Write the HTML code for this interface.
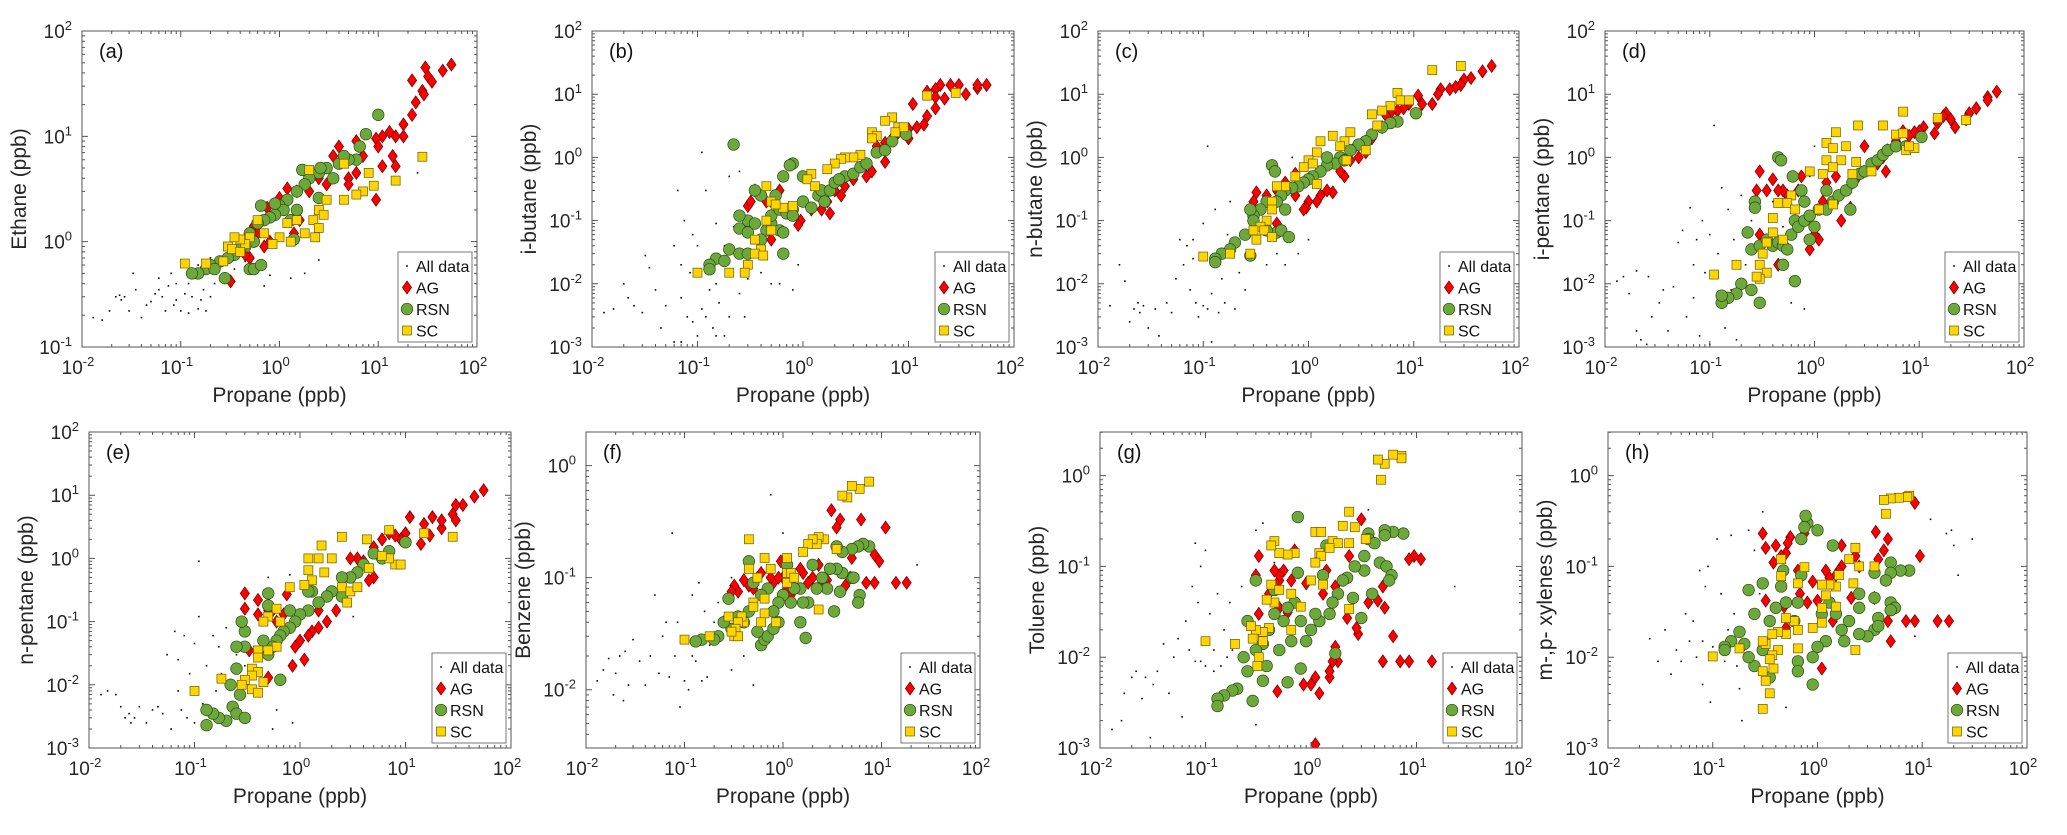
<!DOCTYPE html>
<html><head><meta charset="utf-8"><style>
html,body{margin:0;padding:0;background:#fff}
svg{display:block;font-family:"Liberation Sans",Arial,sans-serif}
</style></head><body>
<svg id="fig" width="2067" height="835" viewBox="0 0 2067 835" xmlns="http://www.w3.org/2000/svg"></svg>
<script>
// ---- data (ppb) ----
const a_all=[[0.013,0.19],[0.016,0.18],[0.019,0.22],[0.022,0.3],[0.024,0.31],[0.025,0.28],[0.027,0.3],[0.03,0.22],[0.033,0.5],[0.035,0.35],[0.04,0.19],[0.045,0.25],[0.05,0.27],[0.055,0.32],[0.06,0.45],[0.065,0.3],[0.07,0.22],[0.075,0.38],[0.08,0.5],[0.085,0.25],[0.09,0.4],[0.1,0.22],[0.11,0.32],[0.12,0.21],[0.13,0.3],[0.14,0.45],[0.15,0.23],[0.16,0.28],[0.17,0.35],[0.18,0.22],[0.2,0.3],[0.22,0.4],[0.25,0.6],[0.28,0.7],[0.3,0.8],[0.35,0.55],[0.4,1],[0.45,0.65],[0.5,0.9],[0.7,0.38],[0.8,0.48],[1.3,0.45],[1.8,0.5],[2.5,0.67],[25,4.5],[0.12,0.4],[0.09,0.28],[0.06,0.35],[0.2,0.7],[0.15,0.6]];
const a_ag=[[55,48],[45,42],[30,45],[32,37],[35,33],[28,27],[29,25],[22,34],[24,21],[22,16],[18,13],[18,10],[15,10],[13,11],[11,10],[9.5,9.5],[10,8],[14,6.5],[15,5.2],[11,5.2],[9.5,2.5],[7,6.5],[6,4.5],[5,4],[5,3.5],[6,9],[4,8],[3.5,6.5],[3,3.5],[2.5,4],[2,3],[1.2,3.2],[1,2.6],[1.5,3],[1.6,1.6],[0.75,2.1],[0.55,1.4],[0.8,1],[0.7,0.9],[0.5,0.7],[0.45,0.75],[0.32,0.42],[1.4,1.2],[0.6,1.2]];
const a_rsn=[[10,16],[7.5,10.5],[6.5,8],[6,6],[5,6],[4,5.5],[3,5],[2.5,4.5],[2,4],[2.6,5],[1.7,4.8],[1.8,3.5],[1.5,3],[1.2,2.5],[1,2.2],[1.1,2],[0.9,1.8],[0.8,1.7],[0.7,1.6],[0.6,1.5],[0.65,2.2],[1.3,1.6],[1.5,2],[2.5,2.6],[0.5,1.2],[0.55,1],[0.45,0.9],[0.4,0.85],[0.35,0.75],[0.3,0.7],[0.25,0.65],[0.2,0.6],[0.18,0.55],[0.15,0.5],[0.13,0.5],[0.28,0.45],[0.5,0.55],[0.55,0.55],[0.65,0.6],[1.4,1.05],[0.22,0.55],[3.5,4],[4.5,6.5],[0.9,2.3]];
const a_sc=[[28,6.4],[15,3.8],[8,4.5],[9,3.4],[7,3],[6,2.8],[4.5,2.5],[3,2.5],[2.5,2],[2.8,1.8],[2.2,1.6],[2.5,1.35],[2.3,1.1],[1.8,1.2],[1.5,1.6],[1.2,1.5],[1,1.1],[1.3,1.0],[2,4.8],[4.5,5.5],[0.85,0.95],[0.7,1.2],[0.6,1.6],[0.5,1.1],[0.45,0.95],[0.4,1.05],[0.35,1.1],[0.3,0.9],[0.27,0.65],[0.18,0.62],[0.11,0.62],[0.33,0.85],[0.4,0.8]];

const b_all=[[0.013,0.0035],[0.016,0.004],[0.02,0.01],[0.022,0.006],[0.025,0.0045],[0.03,0.0035],[0.032,0.028],[0.035,0.018],[0.04,0.008],[0.045,0.002],[0.05,0.0045],[0.06,0.04],[0.065,0.3],[0.07,0.006],[0.07,0.02],[0.075,0.1],[0.08,0.003],[0.085,0.015],[0.09,0.06],[0.1,0.0015],[0.1,0.04],[0.11,1.2],[0.11,0.004],[0.12,0.3],[0.12,0.003],[0.13,0.008],[0.14,0.002],[0.15,0.01],[0.15,0.0015],[0.16,0.005],[0.17,0.02],[0.18,0.04],[0.2,0.003],[0.2,0.5],[0.22,0.08],[0.25,0.007],[0.28,0.003],[0.3,0.012],[0.35,0.03],[0.4,0.015],[0.5,0.01],[0.6,0.01],[0.8,0.008],[0.9,0.02],[0.09,0.0025],[0.06,0.0012],[0.18,0.0015],[0.07,0.0012],[0.25,0.6],[0.15,0.09]];
const b_ag=[[55,14],[45,12.5],[45,14],[30,14],[35,10],[25,14],[20,14],[18,12],[15,11],[18,9],[22,8.5],[18,6],[11,7],[15,4.5],[14,3.3],[12,3],[10,2.8],[10,2],[8,2.5],[7,2],[6,1.7],[5,1.5],[6,0.85],[4.5,0.6],[4,0.5],[3,0.45],[2.5,0.35],[2.3,0.25],[2,0.3],[1.8,0.13],[1.5,0.15],[1.2,0.15],[0.95,0.1],[0.9,0.085],[0.5,0.2],[0.45,0.2],[0.35,0.3],[0.3,0.17],[0.32,0.2],[0.3,0.09],[0.5,0.05],[0.6,0.3],[1.7,0.2]];
const b_rsn=[[0.22,1.6],[0.8,0.8],[0.75,0.75],[0.65,0.5],[0.4,0.25],[0.35,0.3],[0.3,0.1],[0.25,0.12],[0.25,0.075],[0.3,0.065],[0.35,0.09],[0.45,0.07],[0.5,0.09],[0.6,0.07],[0.65,0.065],[0.65,0.03],[0.2,0.035],[0.15,0.025],[0.13,0.02],[0.13,0.017],[0.18,0.023],[0.25,0.03],[0.3,0.03],[0.4,0.05],[0.5,0.12],[0.6,0.15],[0.7,0.13],[0.8,0.15],[1,0.2],[1.2,0.16],[1.4,0.25],[1.5,0.3],[1.8,0.3],[2,0.4],[2.5,0.5],[3,0.55],[3.5,0.7],[4,0.8],[5,1.2],[6,1.3],[7,1.8],[9.5,2.3],[1,0.5],[0.8,0.12],[1.6,0.2],[2.2,0.45],[0.55,0.25]];
const b_sc=[[28,10.5],[15,9.5],[7,4.3],[6,3.8],[8,3],[9,3],[7.5,2.5],[4.5,2.5],[5,2.2],[4.5,2],[3.5,1.1],[3,1],[2.5,1],[2.3,0.95],[2,0.8],[1.7,0.65],[1.2,0.55],[1.1,0.45],[1.3,0.35],[0.65,0.16],[0.5,0.2],[0.45,0.35],[0.45,0.1],[0.5,0.07],[0.55,0.18],[0.35,0.05],[0.4,0.035],[0.35,0.03],[0.3,0.02],[0.28,0.015],[0.2,0.015],[0.1,0.015],[0.42,0.028],[0.8,0.17]];

const c_all=[[0.013,0.0045],[0.016,0.02],[0.018,0.011],[0.02,0.0025],[0.022,0.004],[0.024,0.005],[0.025,0.0035],[0.027,0.0045],[0.03,0.002],[0.035,0.004],[0.038,0.0015],[0.045,0.005],[0.05,0.0035],[0.055,0.012],[0.06,0.05],[0.065,0.02],[0.07,0.04],[0.075,0.008],[0.08,0.025],[0.085,0.005],[0.09,0.003],[0.1,0.0045],[0.1,0.09],[0.11,1.5],[0.11,0.004],[0.12,0.007],[0.13,0.15],[0.14,0.0035],[0.15,0.012],[0.16,0.005],[0.17,0.06],[0.18,0.2],[0.2,0.04],[0.2,0.004],[0.22,0.015],[0.25,0.008],[0.3,0.03],[0.4,0.02],[0.5,0.03],[0.6,0.02],[0.8,0.03],[0.12,0.0012],[0.08,0.05],[0.3,0.15],[0.7,1],[1,0.05]];
const c_ag=[[55,28],[45,23],[35,18],[30,17],[28,14],[25,13],[22,12],[18,12],[17,10],[15,7],[11,9.5],[12,7],[9,7],[8,6],[7,5.5],[6,5],[5.5,4.5],[5,3],[4,2],[3.5,1.2],[3,1],[2.5,0.9],[2.2,0.5],[2,0.6],[1.7,0.28],[1.5,0.3],[1.3,0.25],[1.2,0.2],[1,0.2],[0.95,0.16],[0.9,0.15],[0.75,0.55],[0.6,0.4],[0.5,0.3],[0.4,0.25],[0.32,0.28],[0.3,0.2],[0.5,0.09],[2.8,1.5],[0.75,0.25]];
const c_rsn=[[10.5,5],[7,3.7],[6,3.5],[5,3],[4,2.3],[3.5,1.8],[3,1.6],[2.5,1.3],[2,1],[1.8,0.8],[1.5,0.75],[1.3,0.6],[1.1,0.5],[1,0.45],[0.9,0.4],[0.8,0.35],[0.7,0.33],[0.6,0.3],[0.55,0.25],[0.5,0.2],[0.45,0.75],[0.48,0.6],[0.4,0.2],[0.35,0.15],[0.3,0.12],[0.28,0.15],[0.3,0.1],[0.25,0.06],[0.2,0.045],[0.18,0.035],[0.15,0.03],[0.13,0.025],[0.13,0.022],[0.28,0.028],[0.5,0.065],[0.55,0.07],[0.65,0.055],[0.4,0.07],[0.6,0.15],[1.5,1],[2.2,0.9]];
const c_sc=[[28,28],[15,24],[7,10.5],[7.5,8],[9,8],[6,6.5],[5,5.5],[4,4.8],[4.5,3.2],[3.5,1.3],[2.5,2.5],[2.2,1.8],[2,1.5],[1.7,2.2],[1.3,1.8],[1.2,1.2],[1,0.9],[1.1,0.8],[0.9,0.7],[0.75,0.5],[0.6,0.35],[0.5,0.35],[0.45,0.2],[0.45,0.15],[0.4,0.1],[0.35,0.08],[0.38,0.07],[0.32,0.05],[0.3,0.07],[0.28,0.03],[0.18,0.03],[0.1,0.027],[0.45,0.055],[1.2,0.38],[2.3,0.9]];

const d_all=[[0.013,0.011],[0.015,0.013],[0.017,0.007],[0.02,0.016],[0.02,0.0018],[0.022,0.0013],[0.025,0.0011],[0.026,0.013],[0.028,0.003],[0.033,0.005],[0.036,0.008],[0.04,0.0018],[0.045,0.009],[0.05,0.045],[0.055,0.07],[0.06,0.003],[0.065,0.16],[0.07,0.02],[0.075,0.05],[0.08,0.0015],[0.085,0.1],[0.09,0.015],[0.1,0.06],[0.1,0.0011],[0.11,3.2],[0.12,0.03],[0.13,0.33],[0.14,0.002],[0.15,0.15],[0.16,0.008],[0.17,0.05],[0.18,0.0013],[0.2,0.25],[0.22,0.02],[0.25,0.1],[0.3,0.03],[0.4,0.2],[0.5,0.08],[0.6,0.005],[0.7,0.01],[0.8,0.004],[1,1.5],[0.9,0.5],[0.12,0.015],[0.07,0.006]];
const d_ag=[[55,11],[45,9],[45,8],[35,6],[30,5],[28,4],[22,3],[20,4],[18,5],[17,4.5],[15,3.5],[14,2.4],[11,3],[10,2.6],[9,2.5],[8,2.2],[7,2.6],[6,1.8],[5,1.3],[4.5,1],[4.8,0.6],[4,0.8],[3,1.5],[2.6,0.5],[2.3,0.4],[2.2,0.16],[1.8,0.1],[1.6,0.5],[1.3,0.4],[1.2,0.2],[1.1,0.05],[1,0.06],[0.9,0.035],[0.75,0.5],[0.7,0.3],[0.55,0.25],[0.5,0.3],[0.45,0.3],[0.4,0.45],[0.35,0.3],[0.3,0.6],[0.28,0.3],[0.3,0.06],[0.45,0.02]];
const d_rsn=[[0.45,1],[0.48,0.9],[0.62,0.5],[0.75,0.3],[0.8,0.2],[0.27,0.2],[0.27,0.16],[0.23,0.065],[0.25,0.035],[0.3,0.04],[0.35,0.05],[0.4,0.04],[0.45,0.045],[0.5,0.04],[0.55,0.035],[0.6,0.06],[0.65,0.1],[0.7,0.08],[0.8,0.1],[0.9,0.12],[1,0.08],[1.1,0.15],[1.3,0.15],[1.5,0.2],[1.7,0.25],[2,0.3],[2.3,0.4],[2.7,0.55],[3,0.6],[3.5,0.8],[4,0.9],[4.5,1.1],[5,1.3],[6,1.5],[7.5,1.5],[10.5,2.1],[0.2,0.01],[0.18,0.007],[0.15,0.006],[0.13,0.005],[0.13,0.0065],[0.3,0.005],[0.65,0.011],[0.25,0.008],[0.5,0.02],[0.9,0.05],[1.3,0.3],[2.2,0.15]];
const d_sc=[[28,3.9],[15,4.2],[7,5.3],[6,2.3],[7,2.4],[7.5,1.3],[9,1.4],[8,1.5],[4.5,3.2],[2.6,3.2],[1.6,2.5],[2,1.5],[1.3,1.7],[1.5,1.4],[1.8,0.9],[1.3,0.9],[1.5,0.7],[1.2,0.55],[2.5,0.85],[3.5,0.6],[2.3,0.55],[0.9,0.6],[0.6,0.25],[0.55,0.19],[0.45,0.19],[0.65,0.15],[0.4,0.11],[0.4,0.065],[0.35,0.045],[0.32,0.03],[0.3,0.02],[0.35,0.015],[0.3,0.012],[0.28,0.013],[0.18,0.02],[0.11,0.014],[0.5,0.05],[1.1,0.15],[1.5,0.18]];

const e_all=[[0.013,0.007],[0.015,0.008],[0.018,0.007],[0.02,0.0045],[0.022,0.003],[0.024,0.0035],[0.025,0.0025],[0.027,0.003],[0.03,0.0045],[0.035,0.0025],[0.04,0.004],[0.045,0.0045],[0.05,0.0035],[0.055,0.03],[0.06,0.002],[0.065,0.07],[0.07,0.025],[0.075,0.004],[0.08,0.06],[0.085,0.003],[0.09,0.015],[0.1,0.045],[0.1,0.0025],[0.11,0.12],[0.11,0.9],[0.12,0.005],[0.13,0.02],[0.14,0.003],[0.15,0.06],[0.16,0.008],[0.17,0.04],[0.18,0.015],[0.2,0.08],[0.22,0.0045],[0.25,0.03],[0.3,0.02],[0.4,0.008],[0.5,0.5],[0.55,0.002],[0.6,0.004],[0.8,0.55],[0.85,0.0025],[3.2,0.12],[0.14,0.002],[0.07,0.008]];
const e_ag=[[55,12],[45,9.5],[35,7],[30,7],[28,5],[30,4],[22,3],[22,4],[18,4.5],[17,2.3],[15,3.5],[14,1.7],[11,4.5],[10,2.5],[9,2],[8,2.3],[7,2.5],[6,2],[5,1.5],[5,0.5],[4.5,0.45],[4,0.9],[3.5,1],[3,1],[2.2,0.15],[1.8,0.1],[1.5,0.15],[1.5,0.08],[1.3,0.07],[1.2,0.06],[1,0.05],[0.9,0.04],[0.85,0.02],[1.1,0.025],[0.75,0.27],[0.7,0.13],[0.55,0.15],[0.5,0.15],[0.4,0.22],[0.3,0.28],[0.3,0.16],[0.4,0.13],[0.5,0.013],[0.33,0.035],[0.6,0.1]];
const e_rsn=[[10,1.8],[7,1.3],[6,1],[5,1.2],[4,0.8],[3.5,0.6],[3,0.5],[2.5,0.5],[2,0.3],[1.8,0.25],[1.5,0.2],[1.3,0.3],[1.2,0.15],[1,0.13],[0.9,0.1],[0.8,0.08],[0.7,0.07],[0.65,0.06],[0.6,0.05],[0.55,0.04],[0.5,0.03],[0.45,0.05],[0.5,0.28],[0.5,0.18],[0.3,0.07],[0.3,0.04],[0.25,0.04],[0.28,0.1],[0.25,0.018],[0.22,0.01],[0.27,0.007],[0.23,0.0045],[0.25,0.0035],[0.3,0.003],[0.2,0.0027],[0.17,0.003],[0.15,0.0035],[0.13,0.0023],[0.13,0.004],[0.65,0.012],[0.8,0.15],[1.2,0.3],[2.5,0.25]];
const e_sc=[[28,2.2],[15,2.5],[7,2.8],[8,0.8],[9,0.8],[7,1],[6,1.1],[4.5,0.7],[4.3,2],[2.5,2.2],[1.6,1.6],[1.5,1],[1.2,1],[2,1],[1.7,0.6],[1.3,0.45],[1.2,0.65],[1.1,0.38],[2.5,0.35],[3,0.3],[3.5,0.35],[2.8,0.2],[0.8,0.35],[0.65,0.1],[0.6,0.16],[0.5,0.12],[0.45,0.1],[0.6,0.04],[0.5,0.035],[0.4,0.035],[0.4,0.027],[0.35,0.018],[0.4,0.016],[0.35,0.014],[0.3,0.012],[0.28,0.01],[0.35,0.0085],[0.4,0.0075],[0.18,0.0125],[0.1,0.008],[0.45,0.011]];

const f_all=[[0.013,0.012],[0.015,0.015],[0.017,0.019],[0.019,0.009],[0.02,0.014],[0.022,0.02],[0.024,0.008],[0.025,0.022],[0.027,0.011],[0.03,0.028],[0.035,0.018],[0.04,0.011],[0.045,0.02],[0.05,0.07],[0.055,0.014],[0.06,0.03],[0.065,0.04],[0.07,0.013],[0.075,0.25],[0.08,0.02],[0.085,0.04],[0.09,0.007],[0.1,0.012],[0.1,0.03],[0.11,0.01],[0.12,0.07],[0.13,0.018],[0.14,0.09],[0.15,0.012],[0.16,0.05],[0.17,0.013],[0.18,0.025],[0.2,0.04],[0.22,0.06],[0.25,0.045],[0.3,0.015],[0.4,0.02],[0.5,0.011],[0.75,0.55],[1,0.25],[23,0.13],[0.3,0.1],[0.12,0.02]];
const f_ag=[[18,0.09],[14,0.09],[11,0.28],[9.5,0.14],[8.5,0.16],[8.5,0.09],[7,0.09],[6.2,0.33],[5,0.15],[4.8,0.1],[4.3,0.085],[3.8,0.33],[3.5,0.28],[3.1,0.4],[2.8,0.095],[2.3,0.13],[2,0.1],[1.8,0.09],[1.6,0.11],[1.5,0.12],[1.3,0.1],[1.2,0.07],[1,0.1],[0.95,0.14],[0.8,0.09],[0.75,0.1],[0.6,0.11],[0.5,0.08],[0.45,0.085],[0.4,0.095],[0.35,0.075],[0.32,0.085],[0.3,0.075],[0.55,0.1],[1.1,0.08],[2.5,0.09],[0.9,0.1]];
const f_rsn=[[7.5,0.19],[6.5,0.2],[5.8,0.19],[5,0.18],[5,0.1],[5.2,0.1],[6,0.07],[5.8,0.06],[4,0.17],[3.5,0.19],[3.3,0.05],[3.8,0.075],[4,0.11],[3.5,0.12],[3,0.12],[2.5,0.1],[2.8,0.08],[2.2,0.08],[2,0.13],[1.8,0.06],[1.6,0.06],[1.5,0.08],[1.3,0.08],[1.2,0.06],[1.1,0.13],[1,0.07],[0.9,0.06],[0.8,0.05],[0.7,0.08],[0.6,0.07],[0.5,0.09],[0.45,0.14],[0.45,0.05],[0.4,0.04],[0.35,0.045],[0.3,0.035],[0.28,0.065],[0.25,0.04],[0.22,0.03],[0.2,0.028],[0.15,0.028],[0.13,0.027],[0.6,0.025],[0.65,0.028],[0.7,0.03],[1.7,0.029],[1.5,0.04],[0.9,0.04],[0.8,0.035],[0.55,0.033]];
const f_sc=[[7.5,0.72],[6,0.62],[5,0.66],[4.5,0.52],[4,0.54],[3.5,0.18],[2.6,0.22],[2.3,0.23],[2.2,0.2],[2,0.22],[1.8,0.2],[1.6,0.17],[1.1,0.15],[1.1,0.11],[1.2,0.11],[1.1,0.09],[1.3,0.1],[0.75,0.12],[0.65,0.15],[0.55,0.1],[0.45,0.22],[0.45,0.12],[0.5,0.06],[0.5,0.055],[0.65,0.065],[0.65,0.048],[0.6,0.04],[0.4,0.04],[0.38,0.045],[0.35,0.04],[0.33,0.035],[0.32,0.03],[0.35,0.03],[0.3,0.033],[0.28,0.045],[0.18,0.03],[0.1,0.028],[2.3,0.052],[0.85,0.04]];

const g_all=[[0.013,0.0016],[0.016,0.002],[0.017,0.004],[0.02,0.006],[0.022,0.007],[0.025,0.0035],[0.027,0.006],[0.03,0.0013],[0.032,0.005],[0.035,0.007],[0.04,0.014],[0.045,0.004],[0.05,0.01],[0.055,0.016],[0.06,0.0022],[0.065,0.025],[0.07,0.012],[0.075,0.06],[0.08,0.18],[0.08,0.009],[0.085,0.04],[0.09,0.1],[0.1,0.008],[0.1,0.15],[0.11,0.03],[0.12,0.012],[0.13,0.05],[0.14,0.008],[0.15,0.02],[0.16,0.01],[0.17,0.04],[0.18,0.012],[0.2,0.015],[0.22,0.06],[0.25,0.02],[0.3,0.0018],[0.3,0.25],[0.35,0.3],[0.45,0.11],[0.7,0.38],[23,0.06],[0.09,0.009],[0.12,0.007],[3.5,0.42]];
const g_ag=[[14,0.009],[11,0.12],[9.5,0.13],[8.5,0.12],[8.5,0.009],[7,0.009],[6,0.017],[5,0.035],[4.8,0.009],[4.8,0.06],[4.3,0.042],[3.5,0.04],[3,0.33],[2.8,0.018],[2.7,0.021],[2.2,0.027],[2.3,0.13],[1.8,0.009],[1.6,0.009],[1.5,0.006],[1.5,0.007],[1.7,0.013],[1.4,0.09],[1.3,0.05],[1.2,0.004],[1.1,0.006],[1,0.005],[1.1,0.0011],[0.85,0.005],[0.9,0.065],[0.7,0.15],[0.65,0.07],[0.6,0.031],[0.55,0.09],[0.5,0.07],[0.5,0.08],[0.45,0.09],[0.4,0.05],[0.32,0.13],[0.32,0.03],[0.3,0.08],[0.48,0.0042],[0.5,0.035],[1.7,0.06]];
const g_rsn=[[7.5,0.23],[6,0.24],[5,0.25],[5,0.22],[4.5,0.11],[5.2,0.1],[5.8,0.08],[5.5,0.07],[3.5,0.23],[3.5,0.2],[4,0.18],[3.2,0.13],[3.2,0.09],[3.8,0.05],[3,0.027],[2.6,0.1],[2.5,0.045],[2.2,0.075],[2,0.07],[1.8,0.05],[1.6,0.04],[1.5,0.03],[1.4,0.17],[1.3,0.08],[1.2,0.025],[1.1,0.03],[1,0.02],[0.9,0.015],[0.8,0.025],[0.75,0.35],[0.75,0.085],[0.7,0.04],[0.65,0.015],[0.6,0.035],[0.55,0.025],[0.5,0.012],[0.45,0.03],[0.45,0.055],[0.4,0.02],[0.38,0.008],[0.35,0.014],[0.3,0.07],[0.3,0.012],[0.28,0.0033],[0.25,0.025],[0.25,0.007],[0.23,0.01],[0.2,0.0045],[0.18,0.0043],[0.15,0.0038],[0.13,0.0035],[0.13,0.0029],[0.6,0.0053],[0.8,0.0075],[0.35,0.0055],[1.7,0.011]];
const g_sc=[[7.2,1.65],[7.2,1.55],[6,1.7],[5,1.35],[4.3,1.5],[4.6,0.9],[2.3,0.4],[2.6,0.27],[2,0.28],[3.3,0.2],[2.3,0.18],[1.6,0.19],[1.8,0.18],[1.1,0.24],[1.25,0.24],[1.2,0.14],[1.25,0.13],[1.1,0.11],[1.5,0.16],[1,0.07],[1.3,0.063],[0.7,0.14],[0.6,0.135],[0.5,0.14],[0.45,0.19],[0.42,0.17],[0.42,0.063],[0.5,0.055],[0.65,0.05],[0.8,0.036],[0.45,0.04],[0.38,0.043],[0.4,0.021],[0.35,0.019],[0.3,0.02],[0.27,0.022],[0.28,0.016],[0.35,0.015],[0.32,0.01],[0.31,0.008],[0.19,0.014],[0.1,0.015],[2.3,0.034],[0.65,0.02]];

const h_all=[[0.025,0.016],[0.03,0.009],[0.035,0.02],[0.04,0.0065],[0.045,0.012],[0.05,0.009],[0.055,0.03],[0.06,0.015],[0.065,0.025],[0.07,0.01],[0.075,0.09],[0.08,0.005],[0.085,0.06],[0.09,0.1],[0.095,0.0032],[0.1,0.013],[0.11,0.2],[0.12,0.05],[0.13,0.009],[0.14,0.02],[0.15,0.22],[0.16,0.03],[0.17,0.008],[0.18,0.0045],[0.19,0.002],[0.2,0.012],[0.22,0.25],[0.25,0.15],[0.3,0.4],[0.28,0.05],[0.5,0.0028],[0.75,0.25],[12,0.33],[17,0.23],[19,0.25],[20,0.17],[22,0.08],[30,0.2],[8.5,0.017],[0.12,0.012],[0.08,0.015]];
const h_ag=[[8.5,0.5],[9.5,0.13],[18,0.025],[14,0.025],[8.5,0.025],[7,0.025],[5,0.015],[4.7,0.025],[4.7,0.2],[4.3,0.15],[3.8,0.12],[3.6,0.24],[3.5,0.045],[2.5,0.1],[2.3,0.13],[2.1,0.045],[1.7,0.17],[1.7,0.1],[1.6,0.09],[1.5,0.08],[1.3,0.075],[1.4,0.025],[1.2,0.09],[1.1,0.0075],[1,0.042],[0.9,0.068],[0.8,0.04],[0.75,0.23],[0.68,0.05],[0.65,0.09],[0.55,0.21],[0.52,0.18],[0.5,0.14],[0.45,0.13],[0.4,0.17],[0.38,0.11],[0.32,0.16],[0.3,0.23],[0.32,0.042],[0.48,0.036],[0.5,0.021]];
const h_rsn=[[7.5,0.09],[6.2,0.09],[5,0.11],[5,0.085],[4.5,0.07],[5,0.04],[5.5,0.035],[5,0.033],[3.5,0.085],[3.5,0.045],[3.5,0.02],[3.8,0.027],[3.8,0.022],[3,0.017],[2.5,0.035],[2.5,0.05],[2.5,0.018],[2,0.025],[1.8,0.015],[1.7,0.02],[1.5,0.03],[1.4,0.17],[1.3,0.04],[1.2,0.015],[1.1,0.03],[1,0.25],[1,0.013],[0.9,0.01],[0.9,0.005],[0.8,0.3],[0.77,0.36],[0.75,0.27],[0.7,0.2],[0.7,0.08],[0.65,0.04],[0.6,0.025],[0.65,0.009],[0.65,0.007],[0.5,0.04],[0.47,0.09],[0.45,0.06],[0.4,0.035],[0.35,0.025],[0.35,0.006],[0.3,0.065],[0.3,0.012],[0.25,0.03],[0.25,0.008],[0.22,0.055],[0.2,0.014],[0.18,0.019],[0.15,0.015],[0.13,0.013],[0.13,0.012],[0.22,0.01]];
const h_sc=[[7.5,0.6],[7.2,0.58],[6,0.57],[5,0.56],[4.3,0.54],[4.5,0.38],[2.3,0.16],[2,0.12],[2.5,0.1],[3.5,0.1],[2.2,0.065],[1.6,0.08],[1.5,0.06],[1.3,0.063],[1.1,0.063],[1.2,0.048],[1.1,0.035],[1.1,0.024],[1.5,0.036],[0.9,0.021],[0.75,0.098],[0.65,0.065],[0.6,0.025],[0.65,0.02],[0.65,0.0125],[0.5,0.027],[0.5,0.018],[0.45,0.078],[0.45,0.12],[0.42,0.019],[0.42,0.012],[0.37,0.0105],[0.35,0.0095],[0.38,0.0075],[0.32,0.014],[0.3,0.015],[0.3,0.007],[0.32,0.0055],[0.35,0.004],[0.3,0.0027],[0.18,0.0125],[0.1,0.0102],[2.3,0.012],[0.37,0.018]];

const panelLetters=['a','b','c','d','e','f','g','h'];
const yTitles=['Ethane (ppb)','i-butane (ppb)','n-butane (ppb)','i-pentane (ppb)','n-pentane (ppb)','Benzene (ppb)','Toluene (ppb)','m-,p- xylenes (ppb)'];
const xTickExps=[-2,-1,0,1,2];
const seriesNames=['All data','AG','RSN','SC'];

// layout (not data)
const layout=[
 {L:82,R:477,T:31,B:347,y0:-1,y1:2,yt:[-1,0,1,2],s:[a_all,a_ag,a_rsn,a_sc]},
 {L:592,R:1014,T:31,B:347,y0:-3,y1:2,yt:[-3,-2,-1,0,1,2],s:[b_all,b_ag,b_rsn,b_sc]},
 {L:1098,R:1519,T:31,B:347,y0:-3,y1:2,yt:[-3,-2,-1,0,1,2],s:[c_all,c_ag,c_rsn,c_sc]},
 {L:1605,R:2024,T:31,B:347,y0:-3,y1:2,yt:[-3,-2,-1,0,1,2],s:[d_all,d_ag,d_rsn,d_sc]},
 {L:89,R:511,T:432,B:748,y0:-3,y1:2,yt:[-3,-2,-1,0,1,2],s:[e_all,e_ag,e_rsn,e_sc]},
 {L:586,R:980,T:432,B:748,y0:-2.52,y1:0.3,yt:[-2,-1,0],s:[f_all,f_ag,f_rsn,f_sc]},
 {L:1100,R:1522,T:432,B:748,y0:-3,y1:0.48,yt:[-3,-2,-1,0],s:[g_all,g_ag,g_rsn,g_sc]},
 {L:1608,R:2027,T:432,B:748,y0:-3,y1:0.48,yt:[-3,-2,-1,0],s:[h_all,h_ag,h_rsn,h_sc]}
];
const NS='http://www.w3.org/2000/svg';
const svg=document.getElementById('fig');
function mk(tag,attrs,parent){const e=document.createElementNS(NS,tag);for(const k in attrs)e.setAttribute(k,attrs[k]);(parent||svg).appendChild(e);return e;}
function powLabel(g,x,y,exp,anchor){
  const t=mk('text',{x:x,y:y,'font-size':19,fill:'#262626','text-anchor':anchor},g);
  
  
  t.appendChild(document.createTextNode('10'));
  const s=mk('tspan',{dy:-8,'font-size':13},t);s.textContent=String(exp);
  return t;
}
function marker(g,kind,x,y){
  let e;
  if(kind===0){e=mk('rect',{x:x-0.8,y:y-0.8,width:1.6,height:1.6,fill:'#000'},g);}
  else if(kind===1){e=mk('path',{d:`M${x},${y-6.5}L${x+4.6},${y}L${x},${y+6.5}L${x-4.6},${y}Z`,fill:'#ff0000',stroke:'#6a0000','stroke-width':0.7},g);}
  else if(kind===2){e=mk('circle',{cx:x,cy:y,r:5.8,fill:'#6da83b',stroke:'#2c4a14','stroke-width':0.7},g);}
  else {e=mk('rect',{x:x-4.5,y:y-4.5,width:9,height:9,fill:'#ffd500',stroke:'#6b5a00','stroke-width':0.7},g);}
  return e;
}
layout.forEach((p,i)=>{
  const g=mk('g',{});
  
  
  const xs=v=>p.L+(Math.log10(v)+2)/4*(p.R-p.L);
  const ys=v=>p.B-(Math.log10(v)-p.y0)/(p.y1-p.y0)*(p.B-p.T);
  const clip='clip'+i;
  const cp=mk('clipPath',{id:clip},g);mk('rect',{x:p.L,y:p.T,width:p.R-p.L,height:p.B-p.T},cp);
  // series
  const sg=mk('g',{'clip-path':`url(#${clip})`},g);
  const serNames=['all-data-points','ag-points','rsn-points','sc-points'];
  p.s.forEach((arr,k)=>{
    const gg=mk('g',{},sg);
    
    
    arr.forEach(pt=>{const m=marker(gg,k,xs(pt[0]),ys(pt[1]));
      
      });
  });
  // axes box
  const box=mk('rect',{x:p.L,y:p.T,width:p.R-p.L,height:p.B-p.T,fill:'none',stroke:'#555','stroke-width':1},g);
  
  
  // x ticks
  let tp='';
  for(let e=-2;e<2;e++){for(let m=1;m<10;m++){const v=m*Math.pow(10,e);const x=xs(v);const len=m===1?6:3;
    if(m===1&&e===-2)continue;tp+=`M${x},${p.B}v${-len}M${x},${p.T}v${len}`;}}
  for(let e=Math.floor(p.y0);e<Math.ceil(p.y1);e++){for(let m=1;m<10;m++){const lv=Math.log10(m)+e;if(lv<=p.y0||lv>=p.y1)continue;const y=ys(Math.pow(10,lv));const len=m===1?6:3;
    tp+=`M${p.L},${y}h${len}M${p.R},${y}h${-len}`;}}
  mk('path',{d:tp,stroke:'#555','stroke-width':1,fill:'none'},g);
  xTickExps.forEach(ex=>powLabel(g,xs(Math.pow(10,ex))-4,p.B+27,ex,'middle'));
  p.yt.forEach(ex=>powLabel(g,p.L-10,ys(Math.pow(10,ex))+7,ex,'end'));
  const xt=mk('text',{x:(p.L+p.R)/2,y:p.B+55,'font-size':21,fill:'#262626','text-anchor':'middle'},g);
  
  
  xt.textContent='Propane (ppb)';
  const yc=(p.T+p.B)/2, yx=p.L-56;
  const yt=mk('text',{x:yx,y:yc,'font-size':21,fill:'#262626','text-anchor':'middle',transform:`rotate(-90 ${yx} ${yc})`},g);
  
  
  yt.textContent=yTitles[i];
  const pl=mk('text',{x:p.L+17,y:p.T+27,'font-size':20,fill:'#111'},g);
  
  
  pl.textContent='('+panelLetters[i]+')';
  // legend
  const lg=mk('g',{},g);
  
  
  const lw=74,lh=90,lx=p.R-lw-5,ly=p.B-lh-5;
  mk('rect',{x:lx,y:ly,width:lw,height:lh,fill:'#fff',stroke:'#777','stroke-width':1},lg);
  seriesNames.forEach((nm,k)=>{
    const ey=ly+14+k*21.5;
    const em=marker(lg,k,lx+9,ey);
    
    
    const t=mk('text',{x:lx+18,y:ey+6,'font-size':16,fill:'#111'},lg);
    
    
    t.textContent=nm;
  });
});
</script>
</body></html>
